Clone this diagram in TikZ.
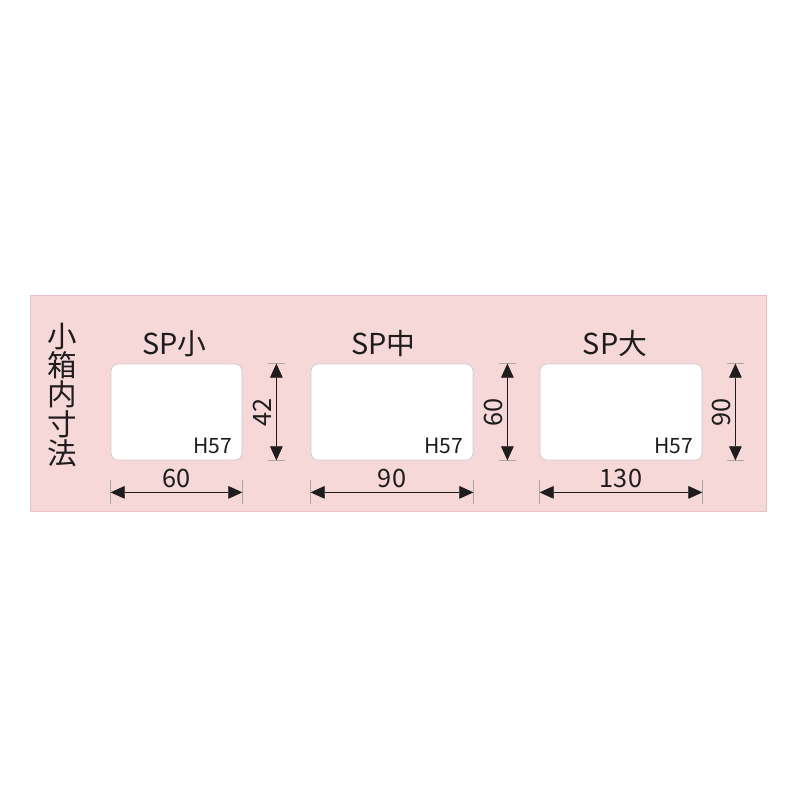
\documentclass[tikz,border=0pt]{standalone}
\usepackage{fontspec}
\setmainfont{Noto Sans CJK JP}
\usetikzlibrary{arrows.meta}

\definecolor{panelpink}{RGB}{247,216,216}
\definecolor{panelline}{RGB}{236,192,198}
\definecolor{boxline}{RGB}{205,200,200}
\definecolor{ink}{RGB}{30,28,28}
\definecolor{extgray}{RGB}{170,165,165}

\tikzset{
  panel/.style={fill=panelpink, draw=panelline, line width=0.6pt},
  sizebox/.style={draw=boxline, fill=white, line width=0.5pt, rounded corners=5pt, inner sep=0pt},
  titletext/.style={font=\fontsize{20.5}{22}\selectfont, text=ink, inner sep=0pt},
  heighttext/.style={font=\fontsize{15}{16}\selectfont, text=ink, inner sep=0pt},
  dimtext/.style={font=\fontsize{18}{19}\selectfont, text=ink},
  dimline/.style={<->, draw=ink, line width=0.5pt},
  extline/.style={draw=extgray, line width=0.4pt}
}

\begin{document}
\begin{tikzpicture}[x=0.025cm, y=-0.025cm, >={Triangle[length=10pt,width=9pt]}]
\useasboundingbox (0,0) rectangle (800,800);

% 背景
\draw[panel] (30,295) rectangle (766,511);

% 縦書きの見出し
\node[font=\fontsize{21}{20.8}\selectfont, text=ink, align=center, inner sep=0pt] (heading) at (62,395) {小\\箱\\内\\寸\\法};

% 小箱
\node[sizebox, minimum width=3.275cm, minimum height=2.4cm] (sho) at (176.5,412) {};
\node[sizebox, minimum width=4.05cm, minimum height=2.4cm] (chu) at (392,412) {};
\node[sizebox, minimum width=4.05cm, minimum height=2.4cm] (dai) at (621,412) {};

\node[titletext, anchor=base] (sho-title) at (174.5,354) {SP小};
\node[titletext, anchor=base] (chu-title) at (383.5,354) {SP中};
\node[titletext, anchor=base] (dai-title) at (615,354) {SP大};

\node[heighttext, anchor=base east] (sho-h) at ([xshift=-0.25cm, yshift=0.18cm]sho.south east) {H57};
\node[heighttext, anchor=base east] (chu-h) at ([xshift=-0.25cm, yshift=0.18cm]chu.south east) {H57};
\node[heighttext, anchor=base east] (dai-h) at ([xshift=-0.23cm, yshift=0.18cm]dai.south east) {H57};

% 寸法線 (SP小)
\coordinate (sho-hl) at ([yshift=-0.8cm]sho.south west);
\coordinate (sho-hr) at ([yshift=-0.8cm]sho.south east);
\coordinate (sho-vt) at ([xshift=0.85cm]sho.north east);
\coordinate (sho-vb) at ([xshift=0.85cm]sho.south east);
\draw[extline] ([yshift=-0.5cm]sho.south west) -- ([yshift=-1.1cm]sho.south west);
\draw[extline] ([yshift=-0.5cm]sho.south east) -- ([yshift=-1.1cm]sho.south east);
\draw[extline] ([xshift=0.65cm]sho.north east) -- ([xshift=1.075cm]sho.north east);
\draw[extline] ([xshift=0.65cm]sho.south east) -- ([xshift=1.075cm]sho.south east);
\draw[dimline] (sho-hl) -- node[dimtext, above] {60} (sho-hr);
\draw[dimline] (sho-vt) -- node[dimtext, anchor=south, rotate=90] {42} (sho-vb);

% 寸法線 (SP中)
\coordinate (chu-hl) at ([yshift=-0.8cm]chu.south west);
\coordinate (chu-hr) at ([yshift=-0.8cm]chu.south east);
\coordinate (chu-vt) at ([xshift=0.85cm]chu.north east);
\coordinate (chu-vb) at ([xshift=0.85cm]chu.south east);
\draw[extline] ([yshift=-0.5cm]chu.south west) -- ([yshift=-1.1cm]chu.south west);
\draw[extline] ([yshift=-0.5cm]chu.south east) -- ([yshift=-1.1cm]chu.south east);
\draw[extline] ([xshift=0.65cm]chu.north east) -- ([xshift=1.075cm]chu.north east);
\draw[extline] ([xshift=0.65cm]chu.south east) -- ([xshift=1.075cm]chu.south east);
\draw[dimline] (chu-hl) -- node[dimtext, above] {90} (chu-hr);
\draw[dimline] (chu-vt) -- node[dimtext, anchor=south, rotate=90] {60} (chu-vb);

% 寸法線 (SP大)
\coordinate (dai-hl) at ([yshift=-0.8cm]dai.south west);
\coordinate (dai-hr) at ([yshift=-0.8cm]dai.south east);
\coordinate (dai-vt) at ([xshift=0.825cm]dai.north east);
\coordinate (dai-vb) at ([xshift=0.825cm]dai.south east);
\draw[extline] ([yshift=-0.5cm]dai.south west) -- ([yshift=-1.1cm]dai.south west);
\draw[extline] ([yshift=-0.5cm]dai.south east) -- ([yshift=-1.1cm]dai.south east);
\draw[extline] ([xshift=0.625cm]dai.north east) -- ([xshift=1.05cm]dai.north east);
\draw[extline] ([xshift=0.625cm]dai.south east) -- ([xshift=1.05cm]dai.south east);
\draw[dimline] (dai-hl) -- node[dimtext, above] {130} (dai-hr);
\draw[dimline] (dai-vt) -- node[dimtext, anchor=south, rotate=90] {90} (dai-vb);
\end{tikzpicture}
\end{document}
